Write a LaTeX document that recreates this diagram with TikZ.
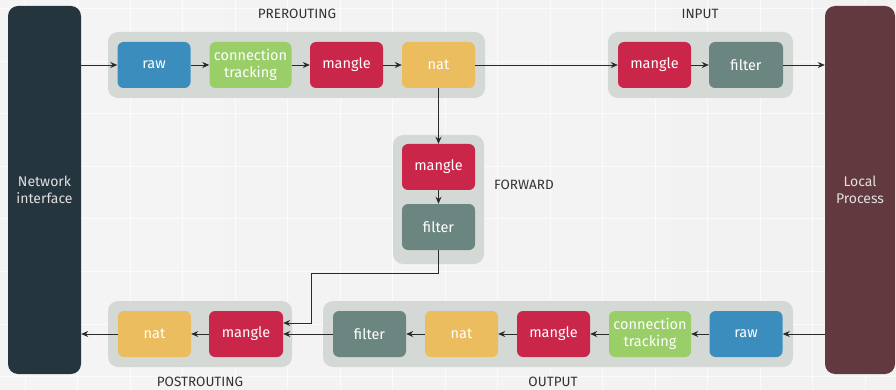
\documentclass[tikz,border=0pt]{standalone}
\usepackage{fontspec}
\setmainfont{Fira Sans}
\usetikzlibrary{arrows.meta}
\definecolor{bgA}{HTML}{F4F4F4}
\definecolor{bgB}{HTML}{E6E6E6}
\definecolor{bgC}{HTML}{F2F2F2}
\definecolor{grp}{HTML}{D4D9D6}
\definecolor{cblue}{HTML}{3B8DBD}
\definecolor{cgreen}{HTML}{99CE69}
\definecolor{cred}{HTML}{C9264A}
\definecolor{cyellow}{HTML}{ECBD5F}
\definecolor{cgray}{HTML}{6B8680}
\definecolor{cni}{HTML}{25353D}
\definecolor{clp}{HTML}{633940}
\definecolor{lbl}{HTML}{333333}
\definecolor{wire}{HTML}{2A2A2A}
\tikzset{
  chainbox/.style={rounded corners=6pt, minimum height=46pt, minimum width=73pt, inner sep=0pt,
    text=white, font=\fontsize{14.5}{17}\selectfont, align=center},
  grpbox/.style={fill=grp, rounded corners=10pt, inner sep=0pt},
  sidebox/.style={rounded corners=10pt, minimum width=73pt, minimum height=368pt, inner sep=0pt,
    text=white!88!black, font=\fontsize{14}{17}\selectfont, align=center},
  chainlabel/.style={text=lbl, font=\fontsize{13.5}{15}\selectfont},
  arr/.style={draw=wire, line width=0.9pt, -{Stealth[length=7pt,width=6pt]}},
  gridline/.style={draw=white, line width=1pt, opacity=0.75}
}
\begin{document}
\begin{tikzpicture}[x=1pt,y=-1pt]
\useasboundingbox (0,0) rectangle (896,390);
% background
\shade[left color=bgA, middle color=bgB, right color=bgC] (0,0) rectangle (896,390);
\foreach \x in {25,77.5,...,880} \draw[gridline] (\x,0) -- (\x,390);
\foreach \y in {8.5,61.1,...,390} \draw[gridline] (0,\y) -- (896,\y);

% side panels
\node[sidebox, fill=cni] (ni) at (44.5,190) {Network\\interface};
\node[sidebox, fill=clp, minimum width=70pt] (lp) at (860,190) {Local\\Process};

% groups
\node[grpbox, minimum width=377pt, minimum height=66pt] (gpre) at (296.5,65) {};
\node[grpbox, minimum width=185pt, minimum height=66pt] (gin) at (700.5,65) {};
\node[grpbox, minimum width=91pt, minimum height=129pt] (gfwd) at (438.5,199.5) {};
\node[grpbox, minimum width=184pt, minimum height=66pt] (gpost) at (200,334) {};
\node[grpbox, minimum width=470pt, minimum height=66pt] (gout) at (558,334) {};

% group labels
\node[chainlabel] (lpre) at (297,14) {PREROUTING};
\node[chainlabel] (lin) at (700,14) {INPUT};
\node[chainlabel] (lfwd) at (524,185) {FORWARD};
\node[chainlabel] (lpost) at (200,382) {POSTROUTING};
\node[chainlabel] (lout) at (553,382) {OUTPUT};

% PREROUTING
\node[chainbox, fill=cblue] (raw1) at (154,65) {raw};
\node[chainbox, fill=cgreen, minimum width=82pt] (ct1) at (250.5,65) {connection\\tracking};
\node[chainbox, fill=cred] (mg1) at (346.5,65) {mangle};
\node[chainbox, fill=cyellow] (nat1) at (438.5,65) {nat};
% INPUT
\node[chainbox, fill=cred] (mg2) at (654.5,65) {mangle};
\node[chainbox, fill=cgray, minimum width=74pt] (fi2) at (746,65) {filter};
% FORWARD
\node[chainbox, fill=cred] (mg3) at (438.5,167) {mangle};
\node[chainbox, fill=cgray] (fi3) at (438.5,227) {filter};
% POSTROUTING
\node[chainbox, fill=cyellow] (nat4) at (154.5,334) {nat};
\node[chainbox, fill=cred, minimum width=74pt] (mg4) at (246,334) {mangle};
% OUTPUT
\node[chainbox, fill=cgray] (fi5) at (369.5,334) {filter};
\node[chainbox, fill=cyellow] (nat5) at (461.5,334) {nat};
\node[chainbox, fill=cred] (mg5) at (553.5,334) {mangle};
\node[chainbox, fill=cgreen, minimum width=82pt] (ct5) at (650,334) {connection\\tracking};
\node[chainbox, fill=cblue] (raw5) at (746,334) {raw};

% top flow
\draw[arr] (ni.east |- raw1.west) -- (raw1.west);
\draw[arr] (raw1) -- (ct1);
\draw[arr] (ct1) -- (mg1);
\draw[arr] (mg1) -- (nat1);
\draw[arr] (nat1) -- (mg2);
\draw[arr] (mg2) -- (fi2);
\draw[arr] (fi2.east) -- (lp.west |- fi2.east);
% forward
\draw[arr] (nat1) -- (mg3);
\draw[arr] (mg3) -- (fi3);
\coordinate (c1) at (311,273);
\coordinate (c2) at (311,323);
\draw[arr] (fi3.south) |- (c1) -- (c2) -- (mg4.east |- c2);
% bottom flow
\draw[arr] (lp.west |- raw5.east) -- (raw5.east);
\draw[arr] (raw5) -- (ct5);
\draw[arr] (ct5) -- (mg5);
\draw[arr] (mg5) -- (nat5);
\draw[arr] (nat5) -- (fi5);
\draw[arr] (fi5) -- (mg4);
\draw[arr] (mg4) -- (nat4);
\draw[arr] (nat4.west) -- (ni.east |- nat4.west);
\end{tikzpicture}
\end{document}
